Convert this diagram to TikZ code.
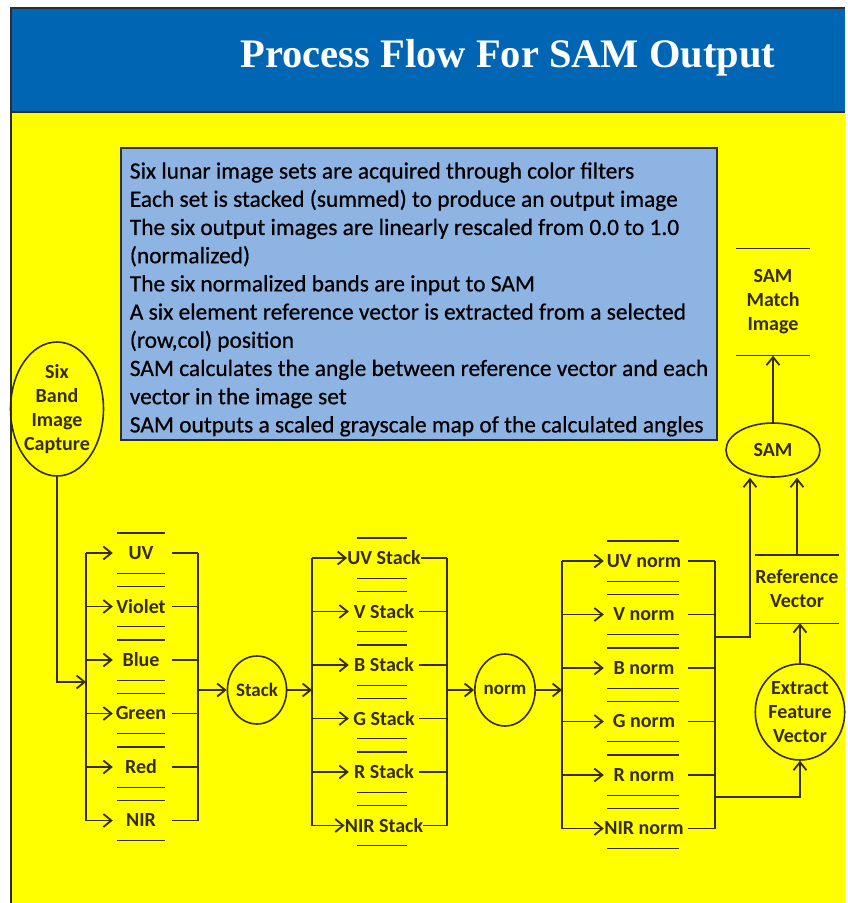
\documentclass[tikz,border=0pt]{standalone}
\usepackage{fontspec}
\setmainfont{Carlito}
\newfontfamily\titlefont{Liberation Serif}
\newfontfamily\notesfont[FakeBold=0.6]{Carlito}
\usetikzlibrary{shapes, arrows.meta, positioning}

\definecolor{header}{RGB}{0,102,179}
\definecolor{panel}{RGB}{255,255,0}
\definecolor{notes}{RGB}{142,180,227}
\definecolor{inkc}{RGB}{55,45,5}
\definecolor{frameline}{RGB}{45,45,50}

\begin{document}
\begin{tikzpicture}[x=1pt, y=-1pt,
tag/.style={font=\bfseries\fontsize{20}{24}\selectfont, text=inkc, align=center},
band/.style={tag, inner sep=0pt, minimum height=40pt, node distance=53.5pt},
band-in/.style={band, minimum width=56pt},
band-stack/.style={band, minimum width=70pt},
band-norm/.style={band, minimum width=80pt},
proc/.style={tag, ellipse, draw=inkc, line width=1.6pt, inner sep=0pt},
line/.style={draw=inkc, line width=1.8pt},
arrow/.style={line, -{Straight Barb[length=8pt, width=13pt]}},
rule/.style={draw=inkc, line width=1.4pt}
]

\useasboundingbox (0,0) rectangle (847,903);
\fill[white] (0,0) rectangle (847,903);
\fill[panel] (11,112) rectangle (845,903);
\fill[header] (11,8) rectangle (845,112);
\draw[frameline, line width=2.5pt] (11,903) -- (11,8) -- (845,8);
\draw[frameline, line width=2.5pt] (11,112) -- (845,112);

\node[font=\titlefont\bfseries\fontsize{40.5}{46}\selectfont, text=white] (title) at (508,58) {Process Flow For SAM Output};

\node[draw=frameline, line width=2pt, fill=notes, minimum width=596pt, minimum height=292pt,
align=left, font=\notesfont\fontsize{23.4}{28.2}\selectfont, text=black] (notes) at (419,294)
{\rule{0pt}{27pt}Six lunar image sets are acquired through color filters\\
Each set is stacked (summed) to produce an output image\\
The six output images are linearly rescaled from 0.0 to 1.0\\
(normalized)\\
The six normalized bands are input to SAM\\
A six element reference vector is extracted from a selected\\
(row,col) position\\
SAM calculates the angle between reference vector and each\\
vector in the image set\\
SAM outputs a scaled grayscale map of the calculated angles};

\node[proc, minimum width=80pt, minimum height=134pt] (capture) at (57,409) {Six\\Band\\Image\\Capture};

\node[band-in] (uv) at (141,553) {UV};
\node[band-in, below of=uv] (violet) {Violet};
\node[band-in, below of=violet] (blue) {Blue};
\node[band-in, below of=blue] (green) {Green};
\node[band-in, below of=green] (red) {Red};
\node[band-in, below of=red] (nir) {NIR};

\node[proc, font=\bfseries\fontsize{19}{24}\selectfont, minimum width=54pt, minimum height=68pt] (stack) at (257,690) {Stack};

\node[band-stack] (uv-stack) at (384,558) {UV Stack};
\node[band-stack, below of=uv-stack] (v-stack) {V Stack};
\node[band-stack, below of=v-stack] (b-stack) {B Stack};
\node[band-stack, below of=b-stack] (g-stack) {G Stack};
\node[band-stack, below of=g-stack] (r-stack) {R Stack};
\node[band-stack, below of=r-stack] (nir-stack) {NIR Stack};

\node[proc, font=\bfseries\fontsize{19}{24}\selectfont, minimum width=54pt, minimum height=72pt] (norm) at (505,690) {norm};

\node[band-norm] (uv-norm) at (644,561) {UV norm};
\node[band-norm, below of=uv-norm] (v-norm) {V norm};
\node[band-norm, below of=v-norm] (b-norm) {B norm};
\node[band-norm, below of=b-norm] (g-norm) {G norm};
\node[band-norm, below of=g-norm] (r-norm) {R norm};
\node[band-norm, below of=r-norm] (nir-norm) {NIR norm};

\node[proc, minimum width=84pt, minimum height=96pt] (feature) at (800,712) {Extract\\Feature\\Vector};
\node[tag, inner sep=0pt, minimum width=77pt, minimum height=68pt] (reference) at (797,589) {Reference\\Vector};
\node[proc, minimum width=94pt, minimum height=54pt] (sam) at (773,450) {SAM};
\node[tag, inner sep=0pt, minimum width=73pt, minimum height=107pt] (match) at (773,302) {SAM\\Match\\Image};

\foreach \n in {uv, violet, blue, green, red, nir}
  \draw[rule] ([xshift=-24pt]\n.north) -- ([xshift=24pt]\n.north)
              ([xshift=-24pt]\n.south) -- ([xshift=24pt]\n.south);
\foreach \n in {uv-stack, v-stack, b-stack, g-stack, r-stack, nir-stack}
  \draw[rule] ([xshift=-27pt]\n.north) -- ([xshift=23pt]\n.north)
              ([xshift=-27pt]\n.south) -- ([xshift=23pt]\n.south);
\foreach \n in {uv-norm, v-norm, b-norm, g-norm, r-norm, nir-norm}
  \draw[rule] ([xshift=-37pt]\n.north) -- ([xshift=35pt]\n.north)
              ([xshift=-37pt]\n.south) -- ([xshift=35pt]\n.south);
\foreach \n in {reference, match}
  \draw[rule] (\n.north west) -- (\n.north east) (\n.south west) -- (\n.south east);

\coordinate (in) at (86,682);
\coordinate (collect) at (198,690);
\coordinate (spread) at (312,690);
\coordinate (gather) at (447,690);
\coordinate (fan) at (562,690);
\coordinate (merge) at (715,690);
\coordinate (tap-sam) at (750,637);
\coordinate (tap-feature) at (800,797);

\draw[arrow] (capture.south) |- (in);
\draw[line] (uv.west -| in) -- (nir.west -| in);
\draw[line] (uv.east -| collect) -- (nir.east -| collect);
\foreach \n in {uv, violet, blue, green, red, nir} {
  \draw[arrow] (\n.west -| in) -- (\n.west);
  \draw[line, shorten <=3pt] (\n.east) -- (\n.east -| collect);
}
\draw[arrow] (collect) -- (stack);
\draw[arrow] (stack) -- (spread);

\draw[line] (uv-stack.west -| spread) -- (nir-stack.west -| spread);
\draw[line] (uv-stack.east -| gather) -- (nir-stack.east -| gather);
\foreach \n in {uv-stack, v-stack, b-stack, g-stack, r-stack, nir-stack} {
  \draw[arrow] (\n.west -| spread) -- (\n.west);
  \draw[line] (\n.east) -- (\n.east -| gather);
}
\draw[arrow] (gather) -- (norm);
\draw[arrow] (norm) -- (fan);

\draw[line] (uv-norm.west -| fan) -- (nir-norm.west -| fan);
\draw[line] (uv-norm.east -| merge) -- (nir-norm.east -| merge);
\foreach \n in {uv-norm, v-norm, b-norm, g-norm, r-norm, nir-norm} {
  \draw[arrow] (\n.west -| fan) -- (\n.west);
  \draw[line, shorten <=4pt] (\n.east) -- (\n.east -| merge);
}

\draw[arrow] (tap-sam -| merge) -- (tap-sam) -- (tap-sam |- sam.south);
\draw[arrow] (tap-feature -| merge) -- (tap-feature) -- (feature);
\draw[arrow] (feature) -- (feature.north |- reference.south);
\draw[arrow] (reference.north) -- (reference.north |- sam.south);
\draw[arrow] (sam) -- (match);

\end{tikzpicture}
\end{document}
